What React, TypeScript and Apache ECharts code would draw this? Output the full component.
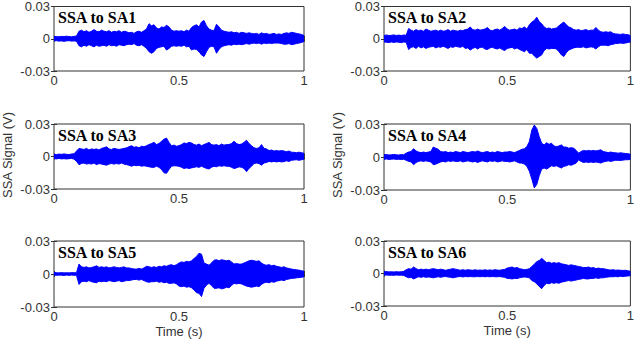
import React, { useEffect, useRef } from "react";
import * as echarts from "echarts";

// Sampling step of the envelope readings (s)
const TIME_STEP = 0.01;

// Signal envelopes, in mV, at t = 0, 0.01, ... 1.00 s
const SA1_UPPER = [2,2,1.8,2.2,2,2.4,2,1.8,2.2,2.5, 7,8,6.5,7.5,6,7,8.5,7,6.5,8, 7,6.5,7.5,6,7,6.5,7.5,6,7,6.5, 5.5,6,5,6.5,7,6,7.5,9,14,12, 13,10,9,11,10.5,12.5,11,8,7,7.5, 7,7.5,6.5,8,7,10.5,12,13,11,15.5, 17,12,9,8,7.5,13.5,11,8,7,6.5, 6,6.5,5.5,6,5,6,5.5,5,5.5,5, 4.5,5,4,5.5,4.5,5,4,4.5,5,4, 4.5,4,5,5.5,5,6,5.5,5,4.5,4, 3];
const SA1_LOWER = [-2,-1.8,-2.2,-2,-2.4,-2,-1.8,-2.2,-2,-2.3, -6.5,-7.5,-6,-7,-5.5,-6.5,-7.5,-6,-7,-6.5, -6,-7,-5.5,-6.5,-6,-7,-5.5,-6,-6.5,-5.5, -5,-5.5,-4.5,-6,-6.5,-5.5,-7,-9,-12,-13.5, -12,-9,-8,-7.5,-7,-10.5,-9,-7,-6.5,-7, -6.5,-7,-6,-7.5,-7,-10.5,-9.5,-10,-12,-15, -16.5,-12,-8,-7,-7.5,-13.5,-10,-7.5,-6.5,-6, -5.5,-6,-5,-5.5,-5,-5.5,-5,-4.5,-5,-4.5, -4,-4.5,-4,-5,-4,-4.5,-4,-4.5,-4,-4, -4,-4.5,-5,-5,-4.5,-5.5,-5,-4.5,-4,-3.5, -2.5];

const SA2_UPPER = [3,3.5,3,3.2,3.6,3,3.4,3,3.5,3.2, 9.5,8,7,8.5,7.5,8,7,9,8,7, 7.5,8,7,8,7,7.5,8.5,7,8,7.5, 7,8,7.5,8.5,9,11,8.5,8,9,8, 8.5,9,10.5,8,7.5,8.5,9,8,9.5,11.5, 9,8,8.5,9,8,10,9.5,11,9,13, 15.5,17,20,16,14,11,9.5,10,9,9.5, 10,12,14,15.5,13,11,10,8.5,8,8.5, 7.5,8,8.5,7.5,8,8,10.5,8,6.5,6, 6.5,6,6.5,5,4.5,4.3,4,4.5,4,3.8, 3];
const SA2_LOWER = [-3,-3.2,-3.5,-3,-3.4,-3,-3.2,-3.6,-3,-3.3, -10,-8,-7.5,-9,-7,-8.5,-7.5,-9,-8,-7.5, -7,-8.5,-7.5,-8,-7,-8,-9,-7.5,-8,-7, -7.5,-8,-7,-9,-8.5,-10.5,-9,-8,-9.5,-8, -8,-9.5,-10,-8.5,-8,-9,-9.5,-8.5,-10,-11, -9,-8.5,-8,-9.5,-8.5,-10,-11,-12,-10,-13.5, -13.5,-16,-18,-16.5,-15,-11,-9,-9.5,-9,-9, -9.5,-12,-15,-16.5,-13,-10.5,-9.5,-8.5,-8,-8, -8,-7.5,-8.5,-8,-7.5,-8,-9.5,-7.5,-6,-6, -6,-6.5,-5.5,-5,-4.5,-4.3,-4,-4.3,-4,-3.5, -3];

const SA3_UPPER = [2,1.8,2.2,2,2.4,2,1.8,2.3,2.5,5, 7.5,7,6.5,7.5,6,7,6.5,7,6,7.5, 8,9,7,6.5,7.5,7,6.5,7,7.5,8, 9,10,8.5,9,8,9.5,9,10,11,12, 13,11,12,14,16,17,13,10,10.5,9.5, 10,11,12.5,12,13,12.5,11,10.5,11.5,10, 11,12,13,11,10.5,11,10,11.5,10.5,11, 11,12,14,12,11,11.5,13,15,12,10, 8,7.5,8,11,7.5,7,5.5,6,5,5.5, 5,5.5,5,4.5,5,4,3.8,3.5,4,3.5, 3];
const SA3_LOWER = [-2,-2.2,-1.8,-2.2,-2,-2.3,-2,-1.8,-2.4,-4.5, -7.5,-6.5,-6,-7,-6.5,-7,-6,-7.5,-6.5,-7, -7.5,-8,-7,-6.5,-7,-6.5,-7,-6,-7,-7.5, -8,-9,-8,-8.5,-8,-9,-8.5,-9,-9.5,-10, -10,-9,-10,-12,-15,-15.5,-12,-9,-8.5,-8.7, -9,-10,-11,-10.5,-11,-10.5,-10,-9.5,-10,-9, -10,-11,-11.5,-10,-9,-9.5,-8.5,-9,-8.5,-9, -9,-10,-11,-10.5,-9.5,-10,-11,-14,-11,-9, -6.5,-6,-6.5,-8,-6,-5.5,-4.5,-5,-4.5,-5, -4.5,-5,-4.7,-4,-4.5,-3.5,-3.2,-3,-3.5,-3, -2.5];

const SA4_UPPER = [2,2.2,1.8,2,2.3,2,1.8,2.2,2,3.5, 4.5,5,7.5,5.5,4.5,4,4.5,4,4.5,5, 9,8,7,5,4.5,5,4,4.5,4,5, 4.5,4,5,4.5,4,4.5,5,4.5,5.5,4.5, 4,4.5,5,4,4.5,4,5,4.5,4,4.5, 4.5,5,4.5,4,5,6,7,7.5,9.5,14, 24.5,29,26,18.5,12.5,11,13,11.5,12.5,10, 9.5,10,11,9,9,8,8.5,8,6,3.5, 5,6,5.5,6,5.5,6,5.5,6,6.5,5, 4.5,4,4.5,4,3.8,3.5,3.8,3.5,3.2,3, 2.5];
const SA4_LOWER = [-2,-1.8,-2.2,-2,-1.8,-2.2,-2,-2.3,-2,-3, -4,-4.5,-7,-5,-4,-3.5,-4,-3.5,-4,-4.5, -7,-6.5,-5.5,-4.5,-4,-4.5,-3.5,-4,-3.5,-4, -4,-3.5,-4.5,-4,-3.5,-4,-4.5,-4,-5,-4, -3.5,-4,-4.5,-3.5,-4,-3.5,-4.5,-4,-3.5,-4, -4,-4.5,-4,-3.5,-4.5,-5.5,-5.5,-6.5,-8.5,-13, -20,-28,-25,-17,-11,-10,-11,-9.5,-8,-8.5, -8,-9,-10,-8.5,-8,-7,-7.5,-6.5,-5.5,-2.5, -4,-5,-4.5,-5,-4.5,-5,-4.5,-5,-5.5,-4.5, -4,-3.5,-4,-3.5,-3,-3,-3.2,-2.8,-2.5,-2.5, -2];

const SA5_UPPER = [1.5,1.2,1,1.3,1,1.2,1,1.3,1.1,1.2, 9,6.5,6,6.5,5.5,6,6.5,7.5,6,6.5, 6,6.5,5.5,6,6.5,6,5.5,6,6.5,5.5, 5.5,5,4.5,4.5,5,4.5,5.5,7,6.5,6, 6.5,6,7,6.5,7.5,7,8,8.5,7.5,8.5, 10,11,10.5,11.5,11,12,14,16,18.8,18, 10,9,8,10,12.5,13,12,13,12.5,12, 12.5,11,9,9.5,9,9,10,11,12,12.5, 12,11.5,12,10,8.5,8,8.5,7.5,8,7, 6.5,6,6.5,5.5,5,4.5,4,3.8,3.5,3, 2.5];
const SA5_LOWER = [-1,-1.2,-1,-1.1,-1.3,-1,-1.2,-1,-1.1,-1.2, -9.5,-7,-6.5,-7,-6,-7,-7.5,-8,-6.5,-7, -6.5,-7,-6,-6.5,-7,-6.5,-6,-7,-6.5,-6, -6,-5.5,-5,-5,-5.5,-5,-6,-7,-7.5,-7, -7,-6.5,-7.5,-7,-8,-7.5,-8.5,-8.5,-8,-9, -11,-11.5,-11,-12,-11.5,-12.5,-14.5,-17,-17.5,-20.5, -13,-10,-8.5,-10.5,-13,-13,-12.5,-13.5,-13,-12, -12.5,-10.5,-8.5,-9,-8.5,-9,-10,-11,-11.5,-12, -11.5,-11,-11.5,-9.5,-8,-7.5,-8,-7,-7.5,-6.5, -6,-5.5,-6,-5,-4.5,-4,-3.8,-3.5,-3.2,-3, -2.5];

const SA6_UPPER = [1.5,1.8,1.5,1.6,1.4,1.7,1.5,1.6,2,3.5, 4.5,4,6,4.5,3.5,4,3.5,4,3.5,4, 4.5,4,3.5,4,3.5,3,3.5,4,4.5,4, 3.5,3,3.5,3,3.5,3.2,3,3.4,3,3.2, 3,3.4,3,3.3,3,3.5,3.2,3,3.5,3.8, 5,5.5,6,5,5.5,4.5,4,3.5,3.8,4.5, 6.5,8.5,11,12,14,12,10,10.5,9.5,10, 9.5,10,9,8.5,8,7.5,8,7.5,7,6.5, 6,5.5,5.5,6,5,5.5,4.5,5,4.5,4.5, 4,3.5,3.2,3.5,3,3.2,3,2.8,3,2.5, 2];
const SA6_LOWER = [-1.5,-1.4,-1.6,-1.5,-1.7,-1.4,-1.6,-1.5,-1.8,-3, -4,-3.5,-5,-4,-3,-3.5,-3,-3.5,-3.2,-3.5, -4,-3.5,-3,-3.5,-3,-2.8,-3.2,-3.5,-4,-3.5, -3,-2.8,-3.2,-2.8,-3,-2.8,-3,-3,-2.8,-3, -2.8,-3,-2.8,-3,-2.8,-3,-3,-2.8,-3.2,-3.5, -4.5,-4.7,-5,-4.5,-4.7,-4,-3.5,-3.2,-3.5,-4, -6.5,-7.5,-9.5,-12,-14,-11,-9,-9.5,-8.5,-9, -8.5,-9,-8,-7.5,-7,-6.5,-7,-6.5,-6,-5.5, -5,-4.5,-5,-5,-4.5,-4.5,-4,-4.5,-4,-4, -3.5,-3.2,-3,-3,-2.8,-3,-2.5,-2.8,-2.5,-2.3, -2];

const TITLES = ["SSA to SA1", "SSA to SA2", "SSA to SA3", "SSA to SA4", "SSA to SA5", "SSA to SA6"];
const UPPERS = [SA1_UPPER, SA2_UPPER, SA3_UPPER, SA4_UPPER, SA5_UPPER, SA6_UPPER];
const LOWERS = [SA1_LOWER, SA2_LOWER, SA3_LOWER, SA4_LOWER, SA5_LOWER, SA6_LOWER];

const X_MIN = 0, X_MAX = 1, X_STEP = 0.5;
const Y_MIN = -30, Y_MAX = 30, Y_STEP = 30; // mV
const Y_LABEL = "SSA Signal (V)";
const X_LABEL = "Time (s)";

// layout (px)
const LAYOUT = [
  { left: 54, top: 6, width: 250, height: 65 },
  { left: 384, top: 6, width: 250, height: 65 },
  { left: 54, top: 124, width: 250, height: 65 },
  { left: 384, top: 124, width: 250, height: 66 },
  { left: 54, top: 241, width: 250, height: 66 },
  { left: 384, top: 241, width: 250, height: 65 },
];

const BLUE = "#0000ff";
const AXIS_COLOR = "#333333";
const LABEL_COLOR = "#333333";
const SANS = "Liberation Sans, Arial, sans-serif";
const SERIF = "Liberation Serif, Times New Roman, serif";

function toPairs(values: number[]) {
  return values.map((v, i) => [i * TIME_STEP, v]);
}

export default function App() {
  const ref = useRef<HTMLDivElement>(null);

  useEffect(() => {
    document.body.style.margin = "0";
    if (!ref.current) return;
    const chart = echarts.init(ref.current, undefined, { renderer: "svg" });

    const grid: any[] = [];
    const xAxis: any[] = [];
    const yAxis: any[] = [];
    const series: any[] = [];
    const title: any[] = [];

    LAYOUT.forEach((g, i) => {
      grid.push({
        left: g.left, top: g.top, width: g.width, height: g.height,
        show: true, borderColor: AXIS_COLOR, borderWidth: 1, backgroundColor: "#ffffff",
      });
      const isBottom = i >= 4;
      const tick = { show: true, inside: true, length: 3, lineStyle: { color: AXIS_COLOR, width: 1 } };
      xAxis.push({
        gridIndex: i, type: "value", position: "bottom",
        min: X_MIN, max: X_MAX, interval: X_STEP,
        axisLine: { show: false }, axisTick: tick, splitLine: { show: false },
        axisLabel: {
          margin: 3, fontSize: 13, color: LABEL_COLOR, fontFamily: SANS,
          showMinLabel: true, showMaxLabel: true,
          formatter: (v: number) => String(v),
        },
        name: isBottom ? X_LABEL : "",
        nameLocation: "middle", nameGap: 18,
        nameTextStyle: { fontSize: 13, color: LABEL_COLOR, fontFamily: SANS },
      });
      xAxis.push({
        gridIndex: i, type: "value", position: "top",
        min: X_MIN, max: X_MAX, interval: X_STEP,
        axisLine: { show: false }, axisTick: tick, splitLine: { show: false },
        axisLabel: { show: false },
      });
      yAxis.push({
        gridIndex: i, type: "value", position: "left",
        min: Y_MIN, max: Y_MAX, interval: Y_STEP,
        axisLine: { show: false }, axisTick: tick, splitLine: { show: false },
        axisLabel: {
          margin: 4, fontSize: 13, color: LABEL_COLOR, fontFamily: SANS,
          showMinLabel: true, showMaxLabel: true,
          formatter: (v: number) => String(v / 1000),
        },
      });
      yAxis.push({
        gridIndex: i, type: "value", position: "right",
        min: Y_MIN, max: Y_MAX, interval: Y_STEP,
        axisLine: { show: false }, axisTick: tick, splitLine: { show: false },
        axisLabel: { show: false },
      });
      // upper envelope fills slightly past zero so the two halves overlap (no seam)
      [{ vals: UPPERS[i], origin: -0.6 }, { vals: LOWERS[i], origin: 0 }].forEach(({ vals, origin }) => {
        series.push({
          type: "line",
          xAxisIndex: 2 * i, yAxisIndex: 2 * i,
          data: toPairs(vals),
          showSymbol: false, symbol: "none",
          lineStyle: { color: BLUE, width: 1 },
          areaStyle: { color: BLUE, opacity: 1, origin },
          silent: true, z: 2,
        });
      });
      title.push({
        text: TITLES[i], left: g.left + 4, top: g.top + 3, padding: 0,
        textStyle: { fontFamily: SERIF, fontWeight: "bold", fontSize: 16, lineHeight: 16, color: "#000000" },
      });
    });

    chart.setOption({
      animation: false,
      backgroundColor: "#ffffff",
      title, grid, xAxis, yAxis, series,
      graphic: [
        {
          type: "text", x: 7.5, y: 155, rotation: Math.PI / 2,
          style: { text: Y_LABEL, fontSize: 13, fontFamily: SANS, fill: LABEL_COLOR, align: "center", verticalAlign: "middle" },
        },
        {
          type: "text", x: 337, y: 155, rotation: Math.PI / 2,
          style: { text: Y_LABEL, fontSize: 13, fontFamily: SANS, fill: LABEL_COLOR, align: "center", verticalAlign: "middle" },
        },
      ],
    });

    return () => chart.dispose();
  }, []);

  return <div ref={ref} style={{ width: 637, height: 345 }} />;
}
